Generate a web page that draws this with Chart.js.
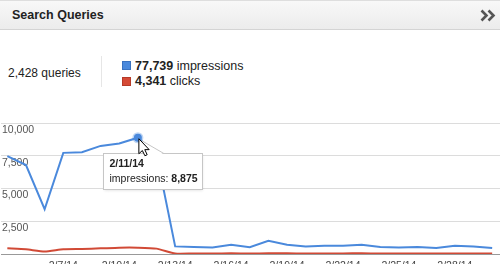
<!DOCTYPE html>
<html><head><meta charset="utf-8">
<script src="https://cdn.jsdelivr.net/npm/chart.js@4"></script>
<style>
html,body{margin:0;padding:0;width:500px;height:264px;overflow:hidden;background:#fff;font-family:Arial,"Liberation Sans",sans-serif;}
#hdr{position:absolute;left:0;top:0;width:500px;height:30px;box-sizing:border-box;background:linear-gradient(#f8f8f8,#ececec);border-top:1px solid #dedede;border-bottom:1px solid #d4d4d4;}
#title{position:absolute;left:12px;top:0;line-height:28px;font-size:12.5px;font-weight:bold;color:#222;}
#chev{position:absolute;left:480px;top:8px;}
#queries{position:absolute;left:8px;top:66px;line-height:14px;font-size:12px;color:#222;white-space:nowrap;}
#sep{position:absolute;left:101px;top:56px;width:1px;height:31px;background:#e6e6e6;}
.lg{position:absolute;left:122px;width:9px;height:9px;box-sizing:border-box;}
.lt{position:absolute;left:135px;line-height:14px;font-size:12.5px;color:#222;white-space:nowrap;}
#wrap{position:absolute;left:-1px;top:110px;width:501px;height:164px;}
</style></head>
<body>
<div id="hdr"><div id="title">Search Queries</div>
<svg id="chev" width="16" height="13"><path d="M1.5 1.5 L6.5 6.5 L1.5 11.5 M8.5 1.5 L13.5 6.5 L8.5 11.5" stroke="#555" stroke-width="2.6" fill="none"/></svg></div>
<div id="queries"></div>
<div id="sep"></div>
<div class="lg" id="sq1" style="top:61px;background:#4a89dc;border:1px solid #3a72c0;"></div>
<div class="lt" id="lt1" style="top:59px;"></div>
<div class="lg" id="sq2" style="top:77px;background:#d54a36;border:1px solid #b63a28;"></div>
<div class="lt" id="lt2" style="top:74px;"></div>
<div id="wrap"><canvas id="c" width="501" height="164"></canvas></div>
<script>
const dates = ['2/4/14','2/5/14','2/6/14','2/7/14','2/8/14','2/9/14','2/10/14','2/11/14','2/12/14','2/13/14','2/14/14','2/15/14','2/16/14','2/17/14','2/18/14','2/19/14','2/20/14','2/21/14','2/22/14','2/23/14','2/24/14','2/25/14','2/26/14','2/27/14','2/28/14','3/1/14','3/2/14'];
const impressions = [7470,6790,3420,7720,7770,8250,8430,8875,7600,580,530,500,700,520,1010,700,580,630,630,700,530,500,530,460,630,580,460];
const clicks = [430,360,190,370,390,430,480,480,410,40,45,40,50,40,55,50,45,45,45,50,40,40,45,40,45,45,40];
const xTickDates = ['2/7/14','2/10/14','2/13/14','2/16/14','2/19/14','2/22/14','2/25/14','2/28/14'];
const yTicks = [0,2500,5000,7500,10000];
const totalQueries = '2,428';
const totalImpressions = '77,739';
const totalClicks = '4,341';
const hoverDate = '2/11/14';

document.getElementById('queries').innerHTML = totalQueries + ' queries';
document.getElementById('lt1').innerHTML = '<b>' + totalImpressions + '</b> impressions';
document.getElementById('lt2').innerHTML = '<b>' + totalClicks + '</b> clicks';

const BLUE = '#4a89dc', RED = '#d14a36';
const hoverIdx = dates.indexOf(hoverDate);

const tipPlugin = {
  id: 'tip',
  afterDraw(chart) {
    const ctx = chart.ctx;
    const p = chart.getDatasetMeta(0).data[hoverIdx];
    const x = p.x, y = p.y;
    const left = Math.round(x - 35) + 0.5, top = Math.round(y + 15) + 0.5, w = 99, h = 36;
    ctx.save();
    ctx.shadowColor = 'rgba(0,0,0,0.12)'; ctx.shadowBlur = 3; ctx.shadowOffsetY = 1;
    ctx.fillStyle = '#fff';
    ctx.fillRect(left, top, w, h);
    ctx.shadowColor = 'transparent';
    ctx.strokeStyle = '#c6c6c6'; ctx.lineWidth = 1;
    ctx.strokeRect(left, top, w, h);
    ctx.beginPath();
    ctx.moveTo(x + 5, top + 1);
    ctx.lineTo(x + 4, y + 3);
    ctx.lineTo(x + 26, top + 1);
    ctx.closePath();
    ctx.fillStyle = '#fff'; ctx.fill();
    ctx.beginPath();
    ctx.moveTo(x + 5, top);
    ctx.lineTo(x + 4, y + 3);
    ctx.lineTo(x + 26, top);
    ctx.strokeStyle = '#c6c6c6'; ctx.stroke();
    ctx.fillStyle = '#222';
    ctx.textBaseline = 'middle';
    ctx.font = 'bold 10.5px Arial, "Liberation Sans", sans-serif';
    ctx.fillText(dates[hoverIdx], left + 6, top + 11);
    ctx.font = '10.5px Arial, "Liberation Sans", sans-serif';
    const lbl = 'impressions: ';
    ctx.fillText(lbl, left + 6, top + 26);
    const lw = ctx.measureText(lbl).width;
    ctx.font = 'bold 10.5px Arial, "Liberation Sans", sans-serif';
    ctx.fillText(impressions[hoverIdx].toLocaleString('en-US'), left + 6 + lw, top + 26);
    const cx = x + 1, cy = y + 1;
    const pts = [[0,0],[0,15],[3.5,11.8],[6,17],[8.3,16],[5.9,10.9],[10.3,10.9]];
    ctx.beginPath();
    pts.forEach((q, i) => i ? ctx.lineTo(cx + q[0], cy + q[1]) : ctx.moveTo(cx + q[0], cy + q[1]));
    ctx.closePath();
    ctx.fillStyle = '#fff'; ctx.fill();
    ctx.strokeStyle = '#000'; ctx.lineWidth = 1; ctx.stroke();
    ctx.restore();
  }
};

new Chart(document.getElementById('c'), {
  type: 'line',
  data: {
    datasets: [
      {
        label: 'impressions',
        data: impressions.map((v, i) => ({x: i, y: v})),
        borderColor: BLUE, borderWidth: 2, tension: 0,
        pointRadius: ctx => ctx.dataIndex === hoverIdx ? 4 : 0,
        pointBackgroundColor: BLUE,
        pointBorderColor: 'rgba(74,137,220,0.35)',
        pointBorderWidth: 3
      },
      {
        label: 'clicks',
        data: clicks.map((v, i) => ({x: i, y: v})),
        borderColor: RED, borderWidth: 2, tension: 0.2,
        pointRadius: 0
      }
    ]
  },
  options: {
    responsive: false, animation: false, devicePixelRatio: 1, events: [],
    layout: {padding: {top: 13, left: 0, right: 0, bottom: 0}},
    plugins: {legend: {display: false}, tooltip: {enabled: false}},
    scales: {
      x: {
        type: 'linear', min: -0.34, max: 26.42,
        afterBuildTicks: s => { s.ticks = xTickDates.map(d => ({value: dates.indexOf(d)})); },
        afterFit: s => { s.height = 20; },
        grid: {display: false, tickLength: 0},
        border: {display: true, color: '#999', width: 1},
        ticks: {
          autoSkip: false, maxRotation: 0, padding: 6, color: '#444',
          font: {family: 'Arial, "Liberation Sans", sans-serif', size: 10.5},
          callback: v => dates[v] || ''
        }
      },
      y: {
        min: 0, max: 10000,
        afterBuildTicks: s => { s.ticks = yTicks.map(v => ({value: v})); },
        border: {display: false},
        grid: {color: c => c.tick && c.tick.value === 0 ? '#999' : '#dcdcdc', drawTicks: false, lineWidth: 1},
        ticks: {
          mirror: true, padding: 1, labelOffset: 7, color: '#555',
          font: {family: 'Arial, "Liberation Sans", sans-serif', size: 10.5},
          callback: v => v === 0 ? '' : v.toLocaleString('en-US')
        }
      }
    }
  },
  plugins: [tipPlugin]
});
</script>
</body></html>
